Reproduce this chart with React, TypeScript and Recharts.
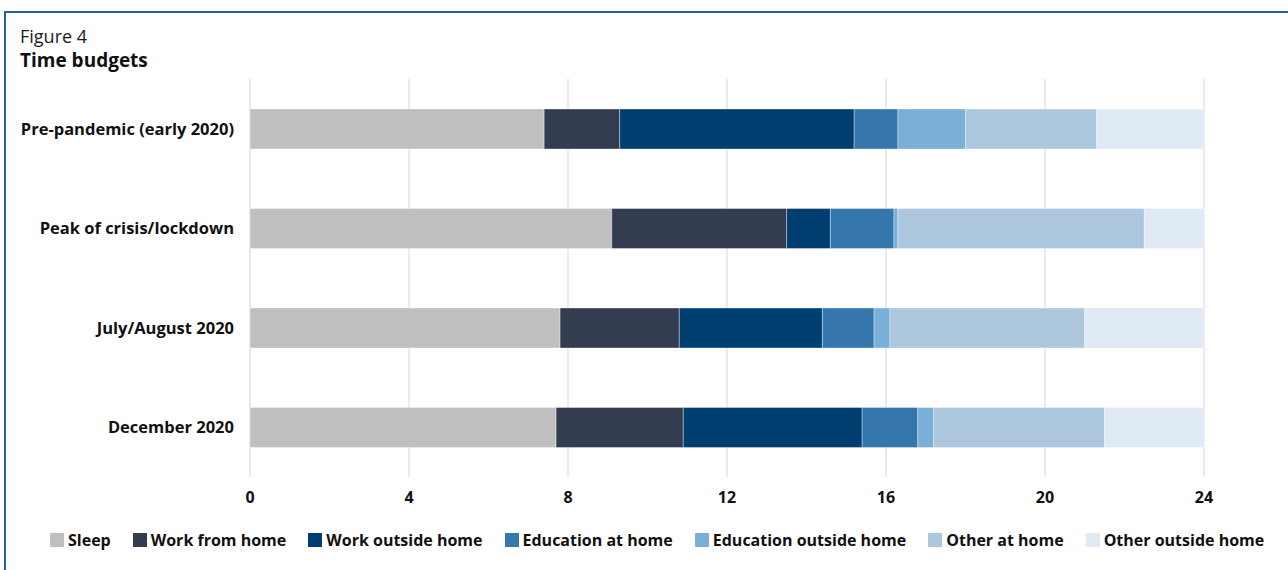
import React from "react";
import { BarChart, Bar, XAxis, YAxis, CartesianGrid } from "recharts";

const categories = [
  "Pre-pandemic (early 2020)",
  "Peak of crisis/lockdown",
  "July/August 2020",
  "December 2020",
];
const sleep = [7.4, 9.1, 7.8, 7.7];
const workFromHome = [1.9, 4.4, 3.0, 3.2];
const workOutsideHome = [5.9, 1.1, 3.6, 4.5];
const educationAtHome = [1.1, 1.6, 1.3, 1.4];
const educationOutsideHome = [1.7, 0.1, 0.4, 0.4];
const otherAtHome = [3.3, 6.2, 4.9, 4.3];
const otherOutsideHome = [2.7, 1.5, 3.0, 2.5];
const xTicks = [0, 4, 8, 12, 16, 20, 24];

const seriesNames = [
  "Sleep",
  "Work from home",
  "Work outside home",
  "Education at home",
  "Education outside home",
  "Other at home",
  "Other outside home",
];
const seriesValues = [
  sleep,
  workFromHome,
  workOutsideHome,
  educationAtHome,
  educationOutsideHome,
  otherAtHome,
  otherOutsideHome,
];
const seriesColors = [
  "#bfbfbf",
  "#343d4f",
  "#023f71",
  "#3577ad",
  "#7aafd7",
  "#adc8de",
  "#e0eaf4",
];
const keys = ["s0", "s1", "s2", "s3", "s4", "s5", "s6"];

const data = categories.map((c, i) => {
  const row: Record<string, any> = { name: c };
  keys.forEach((k, j) => {
    row[k] = seriesValues[j][i];
  });
  return row;
});

const FONT = "'Open Sans', 'Noto Sans', sans-serif";

const LegendBox = () => (
  <div
    style={{
      position: "absolute",
      left: 50,
      top: 529,
      display: "flex",
      flexDirection: "row",
      alignItems: "center",
      gap: 22,
      fontFamily: FONT,
      fontWeight: 700,
      fontSize: 16,
      lineHeight: "22px",
      color: "#111",
      whiteSpace: "nowrap",
    }}
  >
    {seriesNames.map((n, i) => (
      <div key={n} style={{ display: "flex", alignItems: "center" }}>
        <span
          style={{
            display: "inline-block",
            width: 14,
            height: 14,
            background: seriesColors[i],
            marginRight: 4,
          }}
        />
        <span>{n}</span>
      </div>
    ))}
  </div>
);

export default function App() {
  return (
    <div
      style={{
        position: "relative",
        width: 1288,
        height: 570,
        background: "#fff",
        overflow: "hidden",
        fontFamily: FONT,
      }}
    >
      <style>{"body{margin:0;}"}</style>
      <div
        style={{
          position: "absolute",
          left: 4,
          top: 11,
          width: 1300,
          height: 600,
          borderTop: "2px solid #2461a6",
          borderLeft: "2px solid #2461a6",
        }}
      />
      <div
        style={{
          position: "absolute",
          left: 20,
          top: 25,
          fontSize: 18,
          color: "#1a1a1a",
          lineHeight: "22px",
        }}
      >
        Figure 4
      </div>
      <div
        style={{
          position: "absolute",
          left: 20,
          top: 48,
          fontSize: 19,
          fontWeight: 700,
          color: "#111",
          lineHeight: "24px",
        }}
      >
        Time budgets
      </div>
      <div style={{ position: "absolute", left: 0, top: 0 }}>
        <BarChart
          width={1288}
          height={570}
          data={data}
          layout="vertical"
          margin={{ top: 79, right: 84, bottom: 53, left: 0 }}
          barCategoryGap={0}
        >
          <CartesianGrid
            horizontal={false}
            stroke="#e3e3e3"
            strokeWidth={1.5}
          />
          <XAxis
            type="number"
            domain={[0, 24]}
            ticks={xTicks}
            axisLine={false}
            tickLine={false}
            tickMargin={9}
            height={40}
            tick={{ fill: "#111", fontSize: 16, fontWeight: 700, fontFamily: FONT }}
          />
          <YAxis
            type="category"
            dataKey="name"
            width={250}
            axisLine={false}
            tickLine={false}
            tickMargin={10}
            tick={{ fill: "#111", fontSize: 16.5, fontWeight: 700, fontFamily: FONT }}
          />
          {keys.map((k, j) => (
            <Bar
              key={k}
              dataKey={k}
              name={seriesNames[j]}
              stackId="a"
              fill={seriesColors[j]}
              stroke="#ffffff"
              strokeOpacity={0.35}
              strokeWidth={1}
              barSize={40}
              isAnimationActive={false}
            />
          ))}
        </BarChart>
      </div>
      <LegendBox />
    </div>
  );
}
